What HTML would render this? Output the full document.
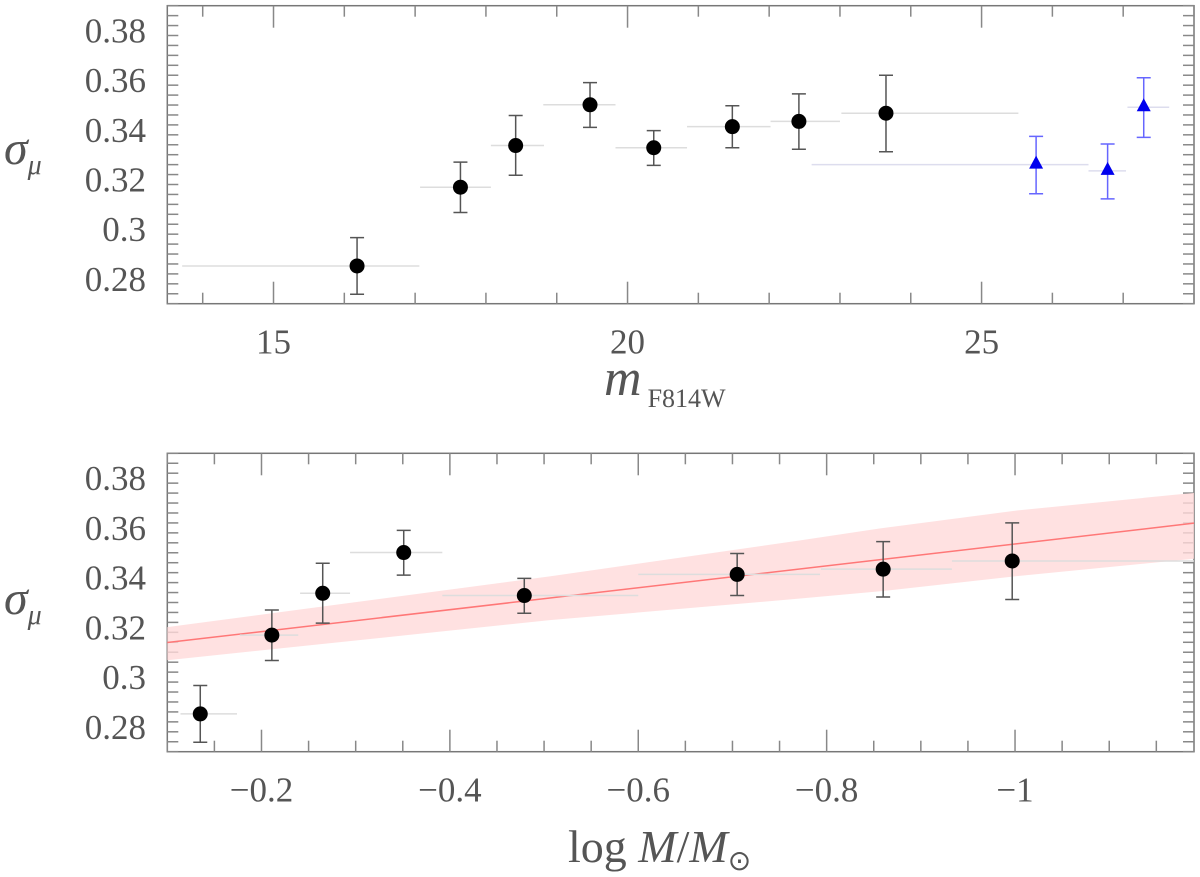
<!DOCTYPE html>
<html><head><meta charset="utf-8"><style>
html,body{margin:0;padding:0;background:#fff;}
svg{display:block;font-family:"Liberation Serif",serif;}
</style></head><body>
<svg id="chart" width="1200" height="877" viewBox="0 0 1200 877" xmlns="http://www.w3.org/2000/svg">
<g id="top"></g>
<g id="bot"></g>
<text x="4" y="164" font-size="48" font-style="italic" fill="#555">σ<tspan font-size="28" dy="10">μ</tspan></text>
<text x="4" y="614" font-size="48" font-style="italic" fill="#555">σ<tspan font-size="28" dy="10">μ</tspan></text>
<text x="604" y="395" font-size="52" font-style="italic" fill="#555">m<tspan font-style="normal" font-size="26" dy="12" dx="6">F814W</tspan></text>
<text x="568" y="862" font-size="46" fill="#555">log <tspan font-style="italic">M</tspan>/<tspan font-style="italic">M</tspan><tspan font-size="28" dy="8">⊙</tspan></text>
</svg>
<script>
// Top panel data
const topX = [16.18, 17.64, 18.42, 19.47, 20.37, 21.48, 22.42, 23.65];
const topXlo = [13.71, 17.07, 18.07, 18.81, 19.83, 20.84, 22.02, 23.02];
const topXhi = [17.06, 18.07, 18.82, 19.83, 20.84, 22.02, 23.0, 25.52];
const sigma = [0.2852, 0.3169, 0.3337, 0.3501, 0.3328, 0.3413, 0.3434, 0.3467];
const sigmaLo = [0.2738, 0.3067, 0.3217, 0.341, 0.3257, 0.3328, 0.3322, 0.3312];
const sigmaHi = [0.2966, 0.3270, 0.3458, 0.359, 0.3397, 0.3497, 0.3545, 0.3620];
const blueX = [25.77, 26.78, 27.29];
const blueXlo = [22.6, 26.51, 27.06];
const blueXhi = [26.51, 27.04, 27.65];
const blueY = [0.326, 0.3235, 0.3491];
const blueYlo = [0.3143, 0.3122, 0.3370];
const blueYhi = [0.3374, 0.3343, 0.3610];
// Bottom panel data
const massX = [-0.135, -0.211, -0.265, -0.351, -0.479, -0.705, -0.860, -0.997];
const massXlo = [-0.114, -0.177, -0.241, -0.294, -0.392, -0.600, -0.794, -0.933];
const massXhi = [-0.174, -0.239, -0.294, -0.392, -0.600, -0.793, -0.933, -1.19];
const fitX = [-0.1, -1.19];
const fitY = [0.3139, 0.3619];
const bandX = [-0.1, -0.506, -0.772, -0.857, -1.002, -1.19];
const bandUp = [0.3201, 0.3405, 0.355, 0.3598, 0.367, 0.3741];
const bandLo = [0.3068, 0.3229, 0.3316, 0.3345, 0.3406, 0.3476];
const yTicks = [0.28, 0.30, 0.32, 0.34, 0.36, 0.38];
const yTickLabels = ["0.28", "0.3", "0.32", "0.34", "0.36", "0.38"];
const topXTicks = [15, 20, 25];
const topXTickLabels = ["15", "20", "25"];
const botXTicks = [-0.2, -0.4, -0.6, -0.8, -1.0];
const botXTickLabels = ["\u22120.2", "\u22120.4", "\u22120.6", "\u22120.8", "\u22121"];

const NS = "http://www.w3.org/2000/svg";
function mk(parent, tag, attrs) {
  const e = document.createElementNS(NS, tag);
  for (const k in attrs) e.setAttribute(k, attrs[k]);
  parent.appendChild(e);
  return e;
}
const L = 167.3, R = 1194;
function panel(g, top, bot, xmin, xmax, minorStep, majorEvery, xt, xtl, nameP) {
  const sx = v => L + (v - xmin) / (xmax - xmin) * (R - L);
  const sy = v => bot - (v - 0.27) / 0.12 * (bot - top);
  const fr = mk(g, 'rect', {x: L, y: top, width: R - L, height: bot - top, fill: 'none', stroke: '#777', 'stroke-width': 1.5});
  
  
  for (let i = 0; i <= 30; i++) {
    const v = 0.27 + i * 0.004;
    const y = sy(v);
    const major = Math.abs(((v - 0.28) / 0.02) - Math.round((v - 0.28) / 0.02)) < 1e-6;
    const len = major ? 22 : 11;
    const t1 = mk(g, 'line', {x1: L, x2: L + len, y1: y, y2: y, stroke: '#888', 'stroke-width': 1.5});
    
    
    const t2 = mk(g, 'line', {x1: R, x2: R - len, y1: y, y2: y, stroke: '#888', 'stroke-width': 1.5});
    
    
  }
  yTicks.forEach((v, i) => {
    const t = mk(g, 'text', {x: 146, y: sy(v) + 12, 'font-size': 35, 'text-anchor': 'end', fill: '#555'});
    t.textContent = yTickLabels[i];
    
    
  });
  const lo = Math.min(xmin, xmax), hi = Math.max(xmin, xmax);
  const start = Math.ceil(lo / minorStep - 1e-9);
  for (let k = start; k * minorStep <= hi + 1e-9; k++) {
    const v = k * minorStep;
    const x = sx(v);
    const major = (Math.abs(k) % majorEvery) === 0;
    const len = major ? 22 : 11;
    const a = mk(g, 'line', {x1: x, x2: x, y1: bot, y2: bot - len, stroke: '#888', 'stroke-width': 1.5});
    
    
    const b = mk(g, 'line', {x1: x, x2: x, y1: top, y2: top + len, stroke: '#888', 'stroke-width': 1.5});
    
    
  }
  xt.forEach((v, i) => {
    const t = mk(g, 'text', {x: sx(v), y: bot + 50, 'font-size': 35, 'text-anchor': 'middle', fill: '#555'});
    t.textContent = xtl[i];
    
    
  });
  return {sx, sy};
}
function errPt(g, sx, sy, x, xl, xh, y, yl, yh, color, hcolor, tri, name) {
  const h = mk(g, 'line', {x1: sx(xl), x2: sx(xh), y1: sy(y), y2: sy(y), stroke: hcolor, 'stroke-width': 1.5});
  
  
  const v = mk(g, 'path', {d: `M${sx(x)},${sy(yl)}V${sy(yh)}M${sx(x)-7},${sy(yl)}h14M${sx(x)-7},${sy(yh)}h14`, stroke: color, 'stroke-width': 1.5, fill: 'none'});
  
  
  let m;
  if (tri) {
    const cx = sx(x), cy = sy(y);
    m = mk(g, 'polygon', {points: `${cx},${cy-9} ${cx-7},${cy+4} ${cx+7},${cy+4}`, fill: '#0000ee'});
  } else {
    m = mk(g, 'circle', {cx: sx(x), cy: sy(y), r: 7.5, fill: '#000'});
  }
  
  
}
const gt = document.getElementById('top');
const T = panel(gt, 5.7, 303.7, 13.5, 28.0, 1, 5, topXTicks, topXTickLabels, 'top');
topX.forEach((x, i) => errPt(gt, T.sx, T.sy, x, topXlo[i], topXhi[i], sigma[i], sigmaLo[i], sigmaHi[i], '#555', '#ddd', false, 'top-point'));
blueX.forEach((x, i) => errPt(gt, T.sx, T.sy, x, blueXlo[i], blueXhi[i], blueY[i], blueYlo[i], blueYhi[i], '#6666ff', '#dde', true, 'blue-point'));

const gb = document.getElementById('bot');
const B = panel(gb, 453.3, 751.7, -0.1, -1.19, 0.05, 4, botXTicks, botXTickLabels, 'bottom');
let d = '';
bandX.forEach((x, i) => { d += (i ? 'L' : 'M') + B.sx(x) + ',' + B.sy(bandUp[i]); });
for (let i = bandX.length - 1; i >= 0; i--) d += 'L' + B.sx(bandX[i]) + ',' + B.sy(bandLo[i]);
const band = mk(gb, 'path', {d: d + 'Z', fill: '#ffdada', opacity: 0.8});


const fit = mk(gb, 'line', {x1: B.sx(fitX[0]), x2: B.sx(fitX[1]), y1: B.sy(fitY[0]), y2: B.sy(fitY[1]), stroke: '#f77', 'stroke-width': 1.5});


massX.forEach((x, i) => errPt(gb, B.sx, B.sy, x, massXlo[i], massXhi[i], sigma[i], sigmaLo[i], sigmaHi[i], '#555', '#ddd', false, 'mass-point'));
</script>
</body></html>
